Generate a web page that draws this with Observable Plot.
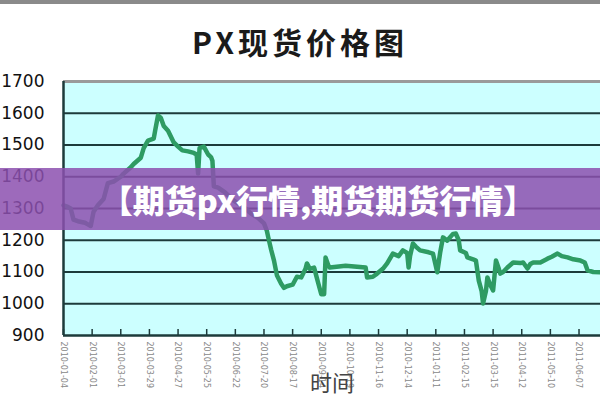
<!DOCTYPE html>
<html><head><meta charset="utf-8">
<script src="https://cdn.jsdelivr.net/npm/d3@7"></script>
<script src="https://cdn.jsdelivr.net/npm/@observablehq/plot@0.6"></script>
<style>
body{margin:0;background:#fff;width:600px;height:400px;overflow:hidden;position:relative;font-family:"DejaVu Sans",sans-serif;}
#title{box-sizing:border-box;height:60px;border-top:4px solid #8a8a8a;text-align:center;font-family:"Noto Sans CJK SC",sans-serif;font-weight:700;font-size:30px;letter-spacing:4px;color:#1a1a1a;padding-top:21px;line-height:32px;}
#chart svg{display:block;}
#banner{position:absolute;left:0;top:168px;width:600px;height:62px;background:rgba(140,80,175,0.85);color:#fff;font-family:"Noto Sans CJK SC",sans-serif;font-weight:900;font-size:32px;line-height:62px;text-align:center;padding-left:36px;box-sizing:border-box;white-space:nowrap;}
</style></head>
<body>
<div id="title">PX现货价格图</div>
<div id="chart"></div>
<div id="banner">【期货px行情,期货期货行情】</div>
<script>
const days = [0,3,5,7,10,15,17,19,21,24,28,31,35,40,42,47,49,54,56,59,63,64,66,68,70,73,77,80,83,87,91,93,94,95,98,101,103,104,105,108,113,119,124,127,131,136,140,142,143,145,147,149,152,154,156,160,163,166,169,170,172,175,177,178,180,182,183,185,186,197,211,212,216,219,223,226,230,234,237,240,241,242,244,246,249,255,258,261,263,265,268,272,274,276,277,281,282,286,288,290,292,293,295,296,298,300,302,304,305,307,310,314,319,321,324,326,328,333,338,341,345,348,352,356,361,364,366,370,375];
const prices = [1310,1305,1300,1265,1260,1255,1250,1245,1290,1310,1330,1380,1385,1400,1410,1430,1440,1460,1490,1514,1520,1545,1593,1585,1560,1545,1508,1495,1483,1480,1475,1470,1410,1490,1495,1470,1462,1450,1370,1366,1350,1325,1310,1300,1284,1270,1253,1230,1209,1170,1136,1090,1063,1050,1055,1060,1085,1083,1110,1127,1110,1114,1080,1063,1030,1030,1146,1120,1114,1120,1114,1083,1085,1095,1110,1127,1158,1150,1168,1160,1114,1150,1190,1180,1168,1162,1158,1099,1160,1209,1199,1220,1221,1200,1168,1160,1146,1140,1136,1073,1040,1001,1040,1083,1060,1042,1136,1110,1095,1100,1114,1130,1128,1130,1111,1125,1130,1130,1142,1148,1158,1150,1146,1140,1136,1130,1105,1100,1099];
const yTicks = [900,1000,1100,1200,1300,1400,1500,1600,1700];
const gridValues = [1000,1100,1200,1300,1400,1500,1600];
const tickDays = [0,20,40,60,80,100,120,140,160,180,200,220,240,260,280,300,320,340,360];
const tickLabels = ["2010-01-04","2010-02-01","2010-03-01","2010-03-29","2010-04-27","2010-05-25","2010-06-22","2010-07-20","2010-08-17","2010-09-14","2010-10-19","2010-11-16","2010-12-14","2011-01-11","2011-02-15","2011-03-15","2011-04-12","2011-05-10","2011-06-07"];
const xLabel = "时间";

const data = days.map((d, i) => ({day: d, price: prices[i]}));
const dark = "#1d3b3b";
const chart = Plot.plot({
  width: 600, height: 340,
  marginTop: 21, marginBottom: 65, marginLeft: 63, marginRight: 0,
  style: {fontFamily: "DejaVu Sans, sans-serif", background: "transparent", overflow: "visible"},
  x: {domain: [0, 375], axis: null, label: null},
  y: {domain: [900, 1700], axis: null, label: null},
  marks: [
    Plot.frame({fill: "#ccffff", stroke: null}),
    Plot.ruleY(gridValues, {stroke: dark, strokeWidth: 2}),
    Plot.ruleY([1700], {stroke: "#9a9a9a", strokeWidth: 3}),
    Plot.axisY({ticks: yTicks, tickFormat: d => String(d), tickSize: 0, tickPadding: 19, fontSize: 17, fill: "#111", label: null}),
    Plot.axisX({ticks: tickDays, tickSize: 6, dy: -6, text: null, stroke: dark, strokeWidth: 1.5, label: null}),
    Plot.axisX({ticks: tickDays, tickFormat: d => tickLabels[tickDays.indexOf(d)], tickSize: 0, tickPadding: 6, tickRotate: 90, fontSize: 8, fill: "#888", label: null}),
    Plot.line(data, {x: "day", y: "price", stroke: "#2e9b63", strokeWidth: 4.5, strokeLinejoin: "round"}),
    Plot.ruleY([900], {stroke: dark, strokeWidth: 2.5}),
    Plot.ruleX([0], {stroke: dark, strokeWidth: 2.5}),
    Plot.text([xLabel], {frameAnchor: "bottom", dy: 55, fontSize: 22, fill: "#444", fontFamily: "Noto Sans CJK SC"})
  ]
});
document.getElementById("chart").append(chart);
</script>
</body></html>
